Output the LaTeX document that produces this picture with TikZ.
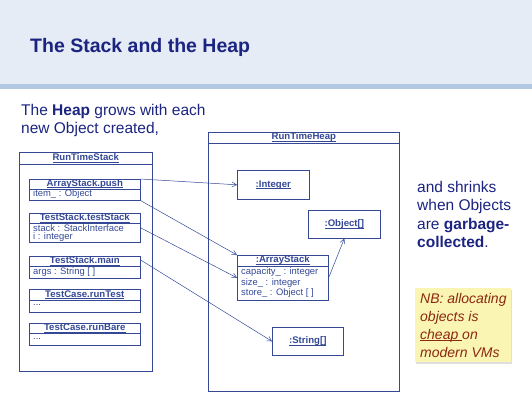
\documentclass[tikz,border=0pt]{standalone}
\usepackage{fontspec}
\setmainfont{Liberation Sans}
\usetikzlibrary{arrows.meta,shadows}

\definecolor{hdrfill}{RGB}{229,236,246}
\definecolor{hdrbar}{RGB}{178,200,224}
\definecolor{navy}{RGB}{27,36,128}
\definecolor{umlblue}{RGB}{52,72,150}
\definecolor{notefill}{RGB}{250,245,178}
\definecolor{notetext}{RGB}{140,40,16}

% underline drawn just below the baseline, independent of descenders
\newsavebox\ulinebox
\newcommand\objname[1]{\sbox\ulinebox{#1}\rlap{\rule[-1.3pt]{\wd\ulinebox}{0.5pt}}\usebox\ulinebox}

\tikzset{
  frame/.style={draw=umlblue, line width=0.6pt, rectangle, anchor=north west, inner sep=0pt},
  ttl/.style={text=umlblue, font=\fontsize{9.6}{11}\selectfont\bfseries, inner sep=0pt},
  fld/.style={text=umlblue, font=\fontsize{9.4}{11}\selectfont, inner sep=0pt, anchor=west},
  divider/.style={draw=umlblue, line width=0.6pt},
  ref/.style={draw=umlblue, line width=0.5pt, -{Straight Barb[length=4.5pt,width=5pt]}},
  body/.style={text=navy, font=\fontsize{15.5}{18.5}\selectfont, inner sep=0pt, align=left, anchor=north west},
}

\begin{document}
\begin{tikzpicture}[x=1pt,y=-1pt]
\useasboundingbox (0,0) rectangle (532,400);

% slide header
\fill[hdrfill] (0,0) rectangle (532,84);
\fill[hdrbar] (0,84) rectangle (532,89);
\node[anchor=base west, inner sep=0pt, text=navy, font=\fontsize{19.5}{22}\selectfont\bfseries] (title) at (30,52) {The Stack and the Heap};

% intro text
\node[body] (intro) at (21,104) {The \textbf{Heap} grows with each\\new Object created,};

% ---------- run-time stack ----------
\node[frame, minimum width=133pt, minimum height=219pt] (stack) at (19,152) {};
\draw[divider] ([yshift=-12pt]stack.north west) -- ([yshift=-12pt]stack.north east);
\node[ttl] (stackT) at ([yshift=-6pt]stack.north) {\objname{RunTimeStack}};

% ArrayStack.push
\node[frame, minimum width=111pt, minimum height=21pt] (push) at (29,179) {};
\draw[divider] ([yshift=-10pt]push.north west) -- ([yshift=-10pt]push.north east);
\node[ttl] (pushT) at ([yshift=-5pt]push.north) {\objname{ArrayStack.push}};
\node[fld] (pushF) at (33,194.5) {item\_ : Object};

% TestStack.testStack
\node[frame, minimum width=111pt, minimum height=29pt] (tstack) at (29,213) {};
\draw[divider] ([yshift=-10pt]tstack.north west) -- ([yshift=-10pt]tstack.north east);
\node[ttl] (tstackT) at ([yshift=-5pt]tstack.north) {\objname{TestStack.testStack}};
\node[fld] (tstackF1) at (33,228) {stack : StackInterface};
\node[fld] (tstackF2) at (33,237.5) {i : integer};

% TestStack.main
\node[frame, minimum width=111pt, minimum height=22pt] (main) at (29,256) {};
\draw[divider] ([yshift=-10pt]main.north west) -- ([yshift=-10pt]main.north east);
\node[ttl] (mainT) at ([yshift=-5pt]main.north) {\objname{TestStack.main}};
\node[fld] (mainF) at (33,272) {args : String [ ]};

% TestCase.runTest
\node[frame, minimum width=111pt, minimum height=23pt] (runtest) at (29,289) {};
\draw[divider] ([yshift=-11pt]runtest.north west) -- ([yshift=-11pt]runtest.north east);
\node[ttl] (runtestT) at ([yshift=-5.5pt]runtest.north) {\objname{TestCase.runTest}};
\node[fld] (runtestF) at (33,305) {...};

% TestCase.runBare
\node[frame, minimum width=111pt, minimum height=22pt] (runbare) at (29,323) {};
\draw[divider] ([yshift=-10pt]runbare.north west) -- ([yshift=-10pt]runbare.north east);
\node[ttl] (runbareT) at ([yshift=-5pt]runbare.north) {\objname{TestCase.runBare}};
\node[fld] (runbareF) at (33,338.5) {...};

% ---------- run-time heap ----------
\node[frame, minimum width=191pt, minimum height=259pt] (heap) at (208,132) {};
\draw[divider] ([yshift=-11pt]heap.north west) -- ([yshift=-11pt]heap.north east);
\node[ttl] (heapT) at ([yshift=-5.5pt]heap.north) {\objname{RunTimeHeap}};

\node[frame, minimum width=72pt, minimum height=29pt] (integer) at (237,170) {};
\node[ttl] (integerT) at (integer.center) {\objname{:Integer}};

\node[frame, minimum width=72pt, minimum height=28pt] (objarr) at (308,210) {};
\node[ttl] (objarrT) at (objarr.center) {\objname{:Object[]}};

\node[frame, minimum width=91pt, minimum height=45pt] (astack) at (237,255) {};
\draw[divider] ([yshift=-11pt]astack.north west) -- ([yshift=-11pt]astack.north east);
\node[ttl] (astackT) at ([yshift=-5.5pt]astack.north) {\objname{:ArrayStack}};
\node[fld] (astackF1) at (241,272.5) {capacity\_ : integer};
\node[fld] (astackF2) at (241,283) {size\_ : integer};
\node[fld] (astackF3) at (241,293.5) {store\_ : Object [ ]};

\node[frame, minimum width=71pt, minimum height=28pt] (strarr) at (272,327) {};
\node[ttl] (strarrT) at (strarr.center) {\objname{:String[]}};

% references from stack frames into the heap
\draw[ref] (push.north east) -- (integer.west);
\draw[ref] (push.south east) -- (astack.north west);
\draw[ref] (tstack.east) -- (astack.west);
\draw[ref] ([yshift=-4pt]main.north east) -- (strarr.west);
\draw[ref] (astack.east) -- (objarr.south);

% right-hand commentary
\node[body] (shrink) at (417,181) {and shrinks\\when Objects\\are \textbf{garbage-}\\\textbf{collected}.};

\node[rectangle, anchor=north west, fill=notefill, minimum width=96pt, minimum height=74pt, inner sep=0pt,
      drop shadow={opacity=0.25, shadow xshift=1pt, shadow yshift=-1.5pt}] (nb) at (415,288) {};
\node[anchor=north west, inner sep=0pt, align=left, text=notetext,
      font=\fontsize{14}{18}\selectfont\itshape] (nbtext) at (420,293) {NB: allocating\\objects is\\\objname{cheap\ }on\\modern VMs};
\end{tikzpicture}
\end{document}
